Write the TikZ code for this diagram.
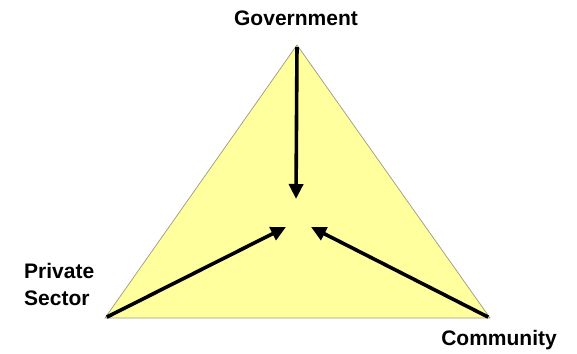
\documentclass[tikz,border=0pt]{standalone}
\usepackage{fontspec}
\setmainfont{Liberation Sans}
\usetikzlibrary{arrows.meta}
\definecolor{tri}{HTML}{FFFF9E}
\definecolor{triedge}{HTML}{9A9A80}
\begin{document}
\begin{tikzpicture}[x=1pt,y=-1pt,
  lbl/.style={font=\fontsize{21}{27}\selectfont\bfseries, inner sep=0pt},
  arr/.style={line width=3.6pt, -{Triangle[length=15pt,width=14pt]}, shorten <=2pt}]
\useasboundingbox (0,0) rectangle (577,353);
\coordinate (T) at (297,45);
\coordinate (L) at (105,318);
\coordinate (R) at (490,318);
\coordinate (cT) at (296,199);
\coordinate (cL) at (286,227);
\coordinate (cR) at (311,227);
\fill[tri] (T) -- (L) -- (R) -- cycle;
\draw[triedge, line width=0.7pt] (T) -- (L) -- (R) -- cycle;
\draw[arr] (T) -- (cT);
\draw[arr] (L) -- (cL);
\draw[arr] (R) -- (cR);
\node[lbl, anchor=base] (gov) at (296,26) {Government};
\node[lbl, anchor=base west, align=left] (priv) at (24,305) {Private\\Sector};
\node[lbl, anchor=base] (com) at (499,345) {Community};
\end{tikzpicture}
\end{document}
